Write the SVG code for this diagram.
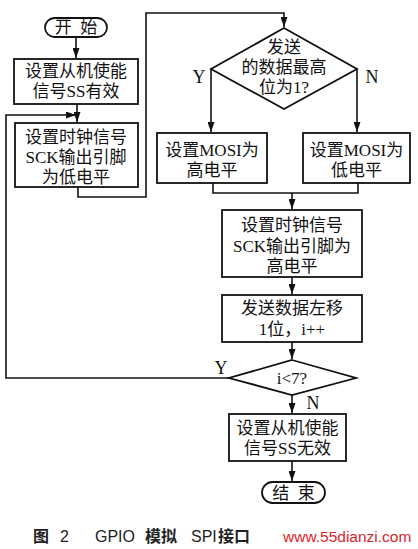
<svg xmlns="http://www.w3.org/2000/svg" width="418" height="549" viewBox="0 0 418 549">
<style>
.n{fill:#fff;stroke:#111;stroke-width:1.8}
.t{font-family:"Liberation Serif","Noto Sans CJK SC",serif;font-size:17px;fill:#111;text-anchor:middle;white-space:pre}
.l{font-family:"Liberation Serif",serif;font-size:18px;fill:#111;text-anchor:middle}
.c{fill:none;stroke:#111;stroke-width:1.6}
.cap{font-family:"Liberation Sans","Noto Sans CJK SC",sans-serif;font-size:16px;fill:#222}
</style>
<defs>
<marker id="a" markerUnits="userSpaceOnUse" markerWidth="10" markerHeight="7" refX="10" refY="3.5" orient="auto">
<path d="M0,0 L10,3.5 L0,7 z" fill="#111"/>
</marker>
</defs>
<rect width="418" height="549" fill="#fff"/>
<g id="connectors">
<path class="c" d="M76,37 V58" marker-end="url(#a)"/>
<path class="c" d="M77,104 V122" marker-end="url(#a)"/>
<path class="c" d="M78,187 V197 H146 V13 H284 V27" marker-end="url(#a)"/>
<path class="c" d="M211,69 V132" marker-end="url(#a)"/>
<path class="c" d="M357,69 V132" marker-end="url(#a)"/>
<path class="c" d="M213,183 V193 H358 V183"/>
<path class="c" d="M292,193 V209" marker-end="url(#a)"/>
<path class="c" d="M292,277 V294" marker-end="url(#a)"/>
<path class="c" d="M292,342 V359" marker-end="url(#a)"/>
<path class="c" d="M229,378 H6 V115 H76" marker-end="url(#a)"/>
<path class="c" d="M292,395 V413" marker-end="url(#a)"/>
<path class="c" d="M292,461 V481" marker-end="url(#a)"/>
<text class="l" x="199" y="83">Y</text>
<text class="l" x="372" y="83">N</text>
<text class="l" x="221" y="374">Y</text>
<text class="l" x="313" y="409">N</text>
</g>
<g id="start">
<rect class="n" x="45" y="18" width="62" height="19" rx="9.5"/>
<text class="t" x="76" y="33" xml:space="preserve">开  始</text>
</g>
<g id="ss_on">
<rect class="n" x="14" y="59" width="124" height="45"/>
<text class="t" x="76" y="77">设置从机使能</text>
<text class="t" x="76" y="96.5">信号SS有效</text>
</g>
<g id="sck_low">
<rect class="n" x="15" y="123" width="123" height="64"/>
<text class="t" x="76" y="143">设置时钟信号</text>
<text class="t" x="76" y="163">SCK输出引脚</text>
<text class="t" x="76" y="182.5">为低电平</text>
</g>
<g id="msb">
<polygon class="n" points="284,28 357,69 284,109 211,69"/>
<text class="t" x="284" y="53">发送</text>
<text class="t" x="284" y="73">的数据最高</text>
<text class="t" x="284" y="92.5">位为1?</text>
</g>
<g id="mosi_high">
<rect class="n" x="157" y="133" width="110" height="50"/>
<text class="t" x="212" y="156">设置MOSI为</text>
<text class="t" x="212" y="176">高电平</text>
</g>
<g id="mosi_low">
<rect class="n" x="303" y="133" width="107" height="50"/>
<text class="t" x="356.5" y="156">设置MOSI为</text>
<text class="t" x="356.5" y="176">低电平</text>
</g>
<g id="sck_high">
<rect class="n" x="222" y="210" width="140" height="67"/>
<text class="t" x="292" y="231">设置时钟信号</text>
<text class="t" x="292" y="252">SCK输出引脚为</text>
<text class="t" x="292" y="272">高电平</text>
</g>
<g id="shift">
<rect class="n" x="222" y="295" width="140" height="47"/>
<text class="t" x="292" y="314">发送数据左移</text>
<text class="t" x="292" y="335">1位，i++</text>
</g>
<g id="loop">
<polygon class="n" points="292,360 356,378 292,395 229,378"/>
<text class="t" x="292" y="384">i&lt;7?</text>
</g>
<g id="ss_off">
<rect class="n" x="229" y="414" width="117" height="47"/>
<text class="t" x="287.5" y="434">设置从机使能</text>
<text class="t" x="287.5" y="453.5">信号SS无效</text>
</g>
<g id="end">
<rect class="n" x="262" y="482" width="63" height="21" rx="10.5"/>
<text class="t" x="293.5" y="499" xml:space="preserve">结  束</text>
</g>
<g id="caption">
<text class="cap" x="33" y="542" font-weight="bold">图</text>
<text class="cap" x="60" y="542">2</text>
<text class="cap" x="95" y="542">GPIO</text>
<text class="cap" x="145" y="542" font-weight="bold">模拟</text>
<text class="cap" x="191" y="542">SPI</text>
<text class="cap" x="218" y="542" font-weight="bold">接口</text>
<text x="283" y="542" font-family="Liberation Sans,sans-serif" font-size="15.5px" fill="#e0242c">www.55dianzi.com</text>
</g>
</svg>
